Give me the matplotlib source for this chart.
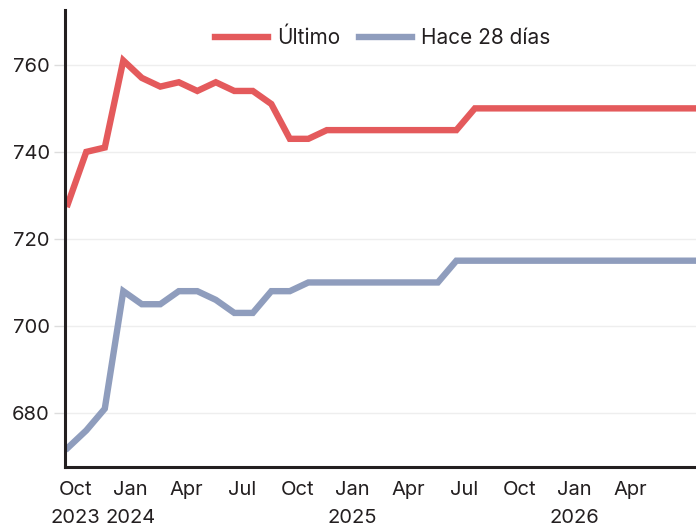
import matplotlib.pyplot as plt
import numpy as np

# months counted from Oct 2023 (0); data points sit a little before each month tick
n_points = 35
x_pos = np.arange(n_points) - 0.4

ultimo = [728, 740, 741, 761, 757, 755, 756, 754, 756, 754, 754, 751, 743, 743,
          745, 745, 745, 745, 745, 745, 745, 745, 750, 750, 750, 750, 750, 750,
          750, 750, 750, 750, 750, 750, 750]
hace_28 = [672, 676, 681, 708, 705, 705, 708, 708, 706, 703, 703, 708, 708, 710,
           710, 710, 710, 710, 710, 710, 710, 715, 715, 715, 715, 715, 715, 715,
           715, 715, 715, 715, 715, 715, 715]

tick_pos = [0, 3, 6, 9, 12, 15, 18, 21, 24, 27, 30]
tick_labels = ["Oct\n2023", "Jan\n2024", "Apr", "Jul", "Oct", "Jan\n2025", "Apr",
               "Jul", "Oct", "Jan\n2026", "Apr"]
y_ticks = [680, 700, 720, 740, 760]

plt.rcParams['font.family'] = ['Inter', 'DejaVu Sans']
txt = '#231f20'

fig = plt.figure(figsize=(6.96, 5.27), dpi=100)
ax = fig.add_axes([65 / 696, 60 / 527, 1 - 65 / 696, 457 / 527])

ax.plot(x_pos, ultimo, color='#e45a5c', lw=4.6, label='Último', solid_joinstyle='miter')
ax.plot(x_pos, hace_28, color='#8f9dbd', lw=4.6, label='Hace 28 días', solid_joinstyle='miter')

ax.set_xlim(-0.55, 33.55)
ax.set_ylim(667.6, 772.6)
ax.set_yticks(y_ticks)
ax.set_xticks(tick_pos)
ax.set_xticklabels(tick_labels, linespacing=1.7, ha='center')
ax.grid(axis='y', color='#eeeeee', lw=1)
ax.set_axisbelow(True)

for s in ['top', 'right']:
    ax.spines[s].set_visible(False)
for s in ['left', 'bottom']:
    ax.spines[s].set_color(txt)
    ax.spines[s].set_linewidth(2.2)

ax.tick_params(axis='y', length=8, color='#dddddd', width=1, labelsize=14.5, labelcolor=txt, pad=3)
ax.tick_params(axis='x', length=0, labelsize=14.5, labelcolor=txt, pad=10)

ax.legend(loc='upper center', bbox_to_anchor=(0.503, 1.002), ncol=2, frameon=False,
          fontsize=15, handlelength=2.55, handletextpad=0.43, columnspacing=0.9,
          labelcolor=txt)

fig.savefig('out.png', dpi=100)
